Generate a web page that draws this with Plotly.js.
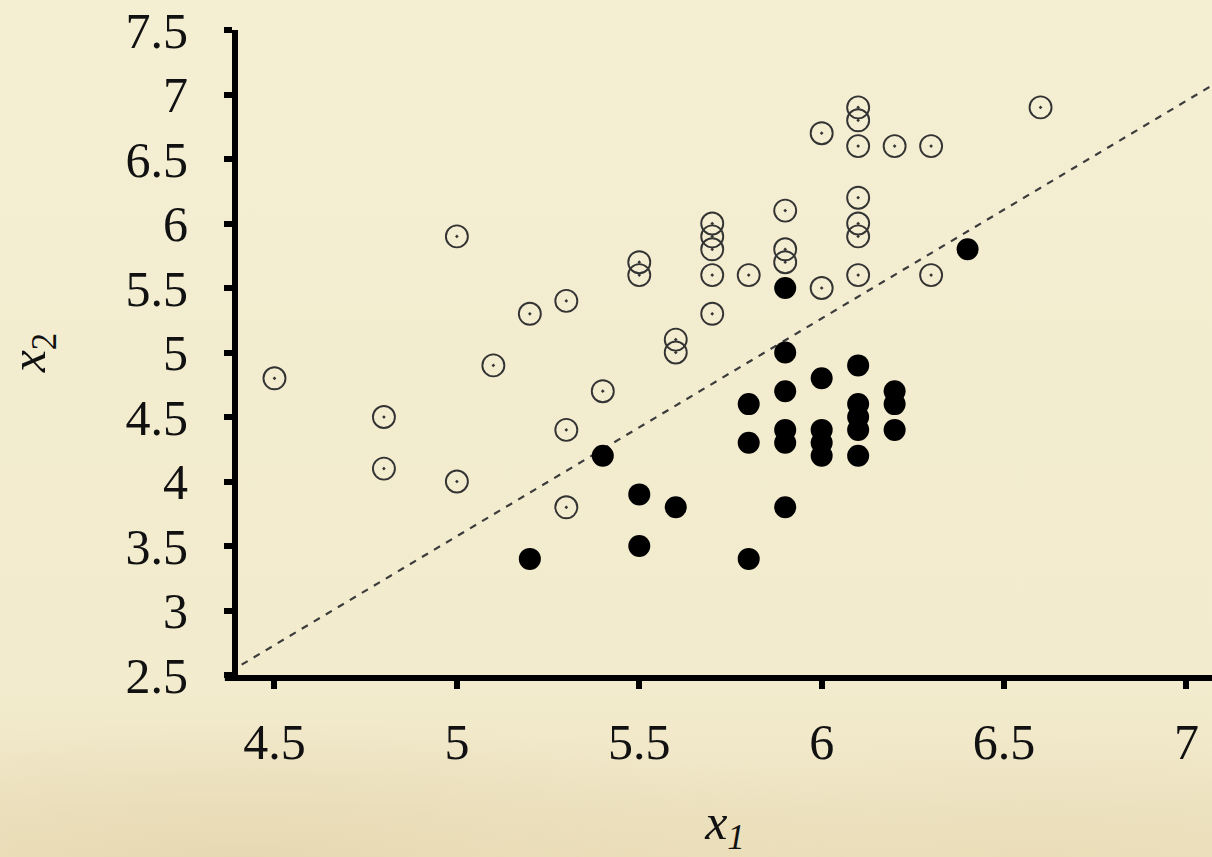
<!DOCTYPE html>
<html>
<head>
<meta charset="utf-8">
<script src="https://cdn.plot.ly/plotly-3.0.1.min.js"></script>
<style>
  html, body { margin: 0; padding: 0; }
  body {
    width: 1212px; height: 857px; overflow: hidden;
    background-color: #f3eccf;
    background-image:
      radial-gradient(ellipse 55% 16% at 20% 100%, rgba(222,204,160,0.45), rgba(222,204,160,0) 100%),
      radial-gradient(ellipse 45% 14% at 85% 100%, rgba(226,210,168,0.35), rgba(226,210,168,0) 100%),
      linear-gradient(180deg, #f4eed3 0%, #f2ebcd 80%, #eee3c1 100%);
  }
  #chart { width: 1212px; height: 857px; }
</style>
</head>
<body>
<div id="chart"></div>
<script>
// Class 0 (open circles)
const openX = [4.5, 4.8, 4.8, 5.0, 5.0, 5.1, 5.2, 5.3, 5.3, 5.3, 5.4, 5.5, 5.5, 5.6, 5.6,
               5.7, 5.7, 5.7, 5.7, 5.7, 5.8, 5.9, 5.9, 5.9, 6.0, 6.0, 6.1, 6.1, 6.1, 6.1,
               6.1, 6.1, 6.1, 6.2, 6.3, 6.3, 6.6];
const openY = [4.8, 4.5, 4.1, 5.9, 4.0, 4.9, 5.3, 5.4, 4.4, 3.8, 4.7, 5.7, 5.6, 5.1, 5.0,
               6.0, 5.9, 5.8, 5.6, 5.3, 5.6, 6.1, 5.8, 5.7, 6.7, 5.5, 6.9, 6.8, 6.6, 6.2,
               6.0, 5.9, 5.6, 6.6, 6.6, 5.6, 6.9];

// Class 1 (filled circles)
const filledX = [5.2, 5.4, 5.5, 5.5, 5.6, 5.8, 5.8, 5.8, 5.9, 5.9, 5.9, 5.9, 5.9, 5.9,
                 6.0, 6.0, 6.0, 6.0, 6.1, 6.1, 6.1, 6.1, 6.1, 6.2, 6.2, 6.2, 6.4];
const filledY = [3.4, 4.2, 3.9, 3.5, 3.8, 3.4, 4.3, 4.6, 5.5, 5.0, 4.7, 4.4, 4.3, 3.8,
                 4.8, 4.4, 4.3, 4.2, 4.9, 4.6, 4.5, 4.4, 4.2, 4.7, 4.6, 4.4, 5.8];

// Separating line endpoints
const boundaryX = [4.41, 7.07];
const boundaryY = [2.58, 7.07];

const xTicks = [4.5, 5, 5.5, 6, 6.5, 7];
const yTicks = [2.5, 3, 3.5, 4, 4.5, 5, 5.5, 6, 6.5, 7, 7.5];

const serif = 'Liberation Serif, Times New Roman, serif';

const traces = [
  {
    x: boundaryX, y: boundaryY, type: 'scatter', mode: 'lines',
    line: { color: '#3c3c3c', width: 2.2, dash: '7px,7px' },
    hoverinfo: 'skip'
  },
  {
    x: openX, y: openY, type: 'scatter', mode: 'markers',
    marker: { symbol: 'circle-open-dot', size: 22, color: '#333', line: { width: 1.9, color: '#2e2e2e' } }
  },
  {
    x: filledX, y: filledY, type: 'scatter', mode: 'markers',
    marker: { symbol: 'circle', size: 22, color: '#000', line: { width: 0 } }
  }
];

const axisCommon = {
  showgrid: false, zeroline: false,
  showline: true, linecolor: '#000', linewidth: 6,
  ticks: 'outside', ticklen: 8, tickwidth: 6, tickcolor: '#000',
  tickfont: { family: serif, size: 50, color: '#111' }
};

const layout = {
  width: 1212, height: 857,
  margin: { l: 238, r: 0, t: 30, b: 182 },
  paper_bgcolor: 'rgba(0,0,0,0)',
  plot_bgcolor: 'rgba(0,0,0,0)',
  showlegend: false,
  xaxis: Object.assign({}, axisCommon, {
    range: [4.4, 7.07], tickvals: xTicks, ticktext: xTicks.map(String),
    ticklabelstandoff: 10,
    title: { text: '<i>x<sub>1</sub></i>', font: { family: serif, size: 50, color: '#111' }, standoff: 38 }
  }),
  yaxis: Object.assign({}, axisCommon, {
    range: [2.5, 7.5], tickvals: yTicks, ticktext: yTicks.map(String),
    ticklabelstandoff: 26,
    title: { text: '<i>x</i><sub>2</sub>', font: { family: serif, size: 50, color: '#111' }, standoff: 76 }
  }),
  shapes: [
    // short overhang of the horizontal axis past the vertical one
    {
      type: 'line', xref: 'paper', yref: 'paper',
      x0: -0.0135, x1: 0.002, y0: -3, y1: -3,
      ysizemode: 'pixel', yanchor: 0,
      line: { color: '#000', width: 6 }
    }
  ]
};

Plotly.newPlot('chart', traces, layout, { displayModeBar: false, staticPlot: true });
</script>
</body>
</html>
